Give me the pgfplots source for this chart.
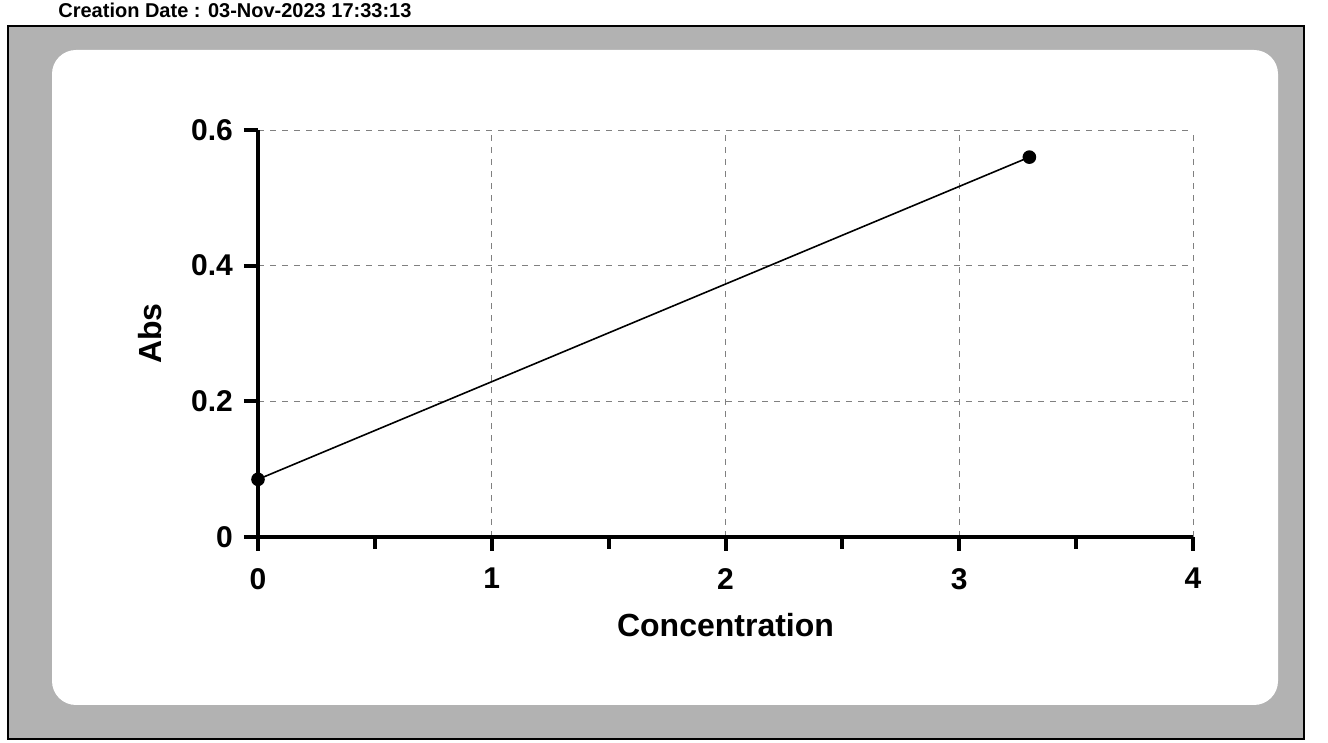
\documentclass[border=0pt]{standalone}
\usepackage{pgfplots}
\pgfplotsset{compat=1.18}
\usepackage{fontspec}
\setmainfont{Liberation Sans}
\begin{document}
\begin{tikzpicture}[x=1pt,y=1pt]
\useasboundingbox (0,0) rectangle (664,371.5);
\clip (0,0) rectangle (664,371.5);
\fill[white] (0,0) rectangle (664,371.5);
\fill[black!30] (4,2) rectangle (652,358.5);
\draw[line width=1pt] (4,2) rectangle (652,358.5);
\fill[white, rounded corners=12pt] (26,19) rectangle (639,346.5);
\node[anchor=base west, inner sep=0pt, font=\bfseries\fontsize{10}{12}\selectfont] at (29,362.5) {Creation Date : 03-Nov-2023 17:33:13};
\begin{axis}[
  scale only axis, width=467.5pt, height=203.5pt,
  at={(129pt,103pt)}, anchor=south west,
  xmin=0, xmax=4, ymin=0, ymax=0.6,
  axis lines*=left,
  axis line style={line width=2pt, black},
  xtick={0,1,2,3,4}, minor xtick={0.5,1.5,2.5,3.5},
  ytick={0,0.2,0.4,0.6},
  tick align=outside, major tick length=7pt, minor tick length=6pt,
  every tick/.style={line width=2pt, black},
  grid=major, major grid style={dashed, gray, line width=0.5pt},
  /pgf/number format/assume math mode=true,
  ticklabel style={font=\bfseries\fontsize{15}{18}\selectfont},
  xticklabel style={yshift=-5pt},
  yticklabel style={xshift=-2pt},
  xlabel={Concentration}, ylabel={Abs},
  label style={font=\bfseries\fontsize{16}{19}\selectfont},
  xlabel style={yshift=-5pt},
  ylabel style={yshift=8pt},
  clip=false,
]
\addplot[black, line width=0.8pt, mark=*, mark size=3pt] coordinates {(0,0.085) (3.3,0.56)};
\end{axis}
\end{tikzpicture}
\end{document}
